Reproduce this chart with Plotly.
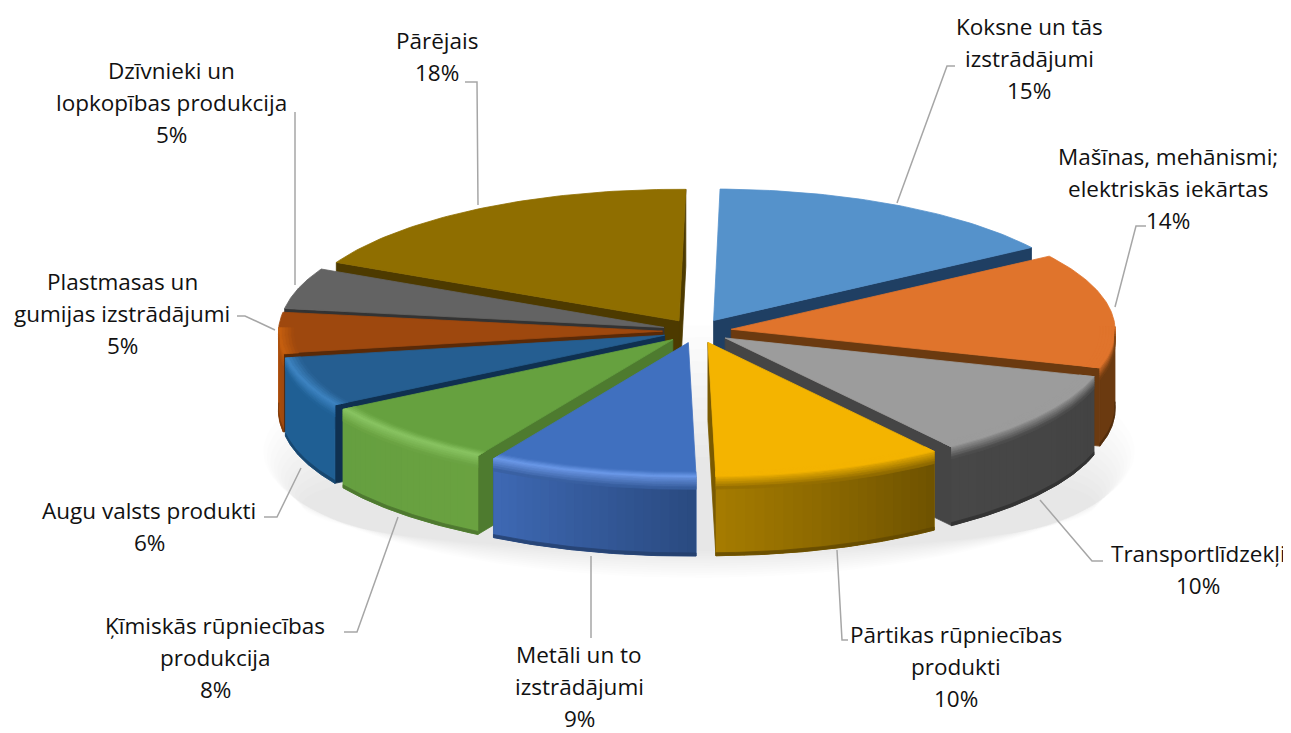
import numpy as np
import plotly.graph_objects as go

categories = ["Koksne un tās\nizstrādājumi", "Mašīnas, mehānismi;\nelektriskās iekārtas", "Transportlīdzekļi",
              "Pārtikas rūpniecības\nprodukti", "Metāli un to\nizstrādājumi", "Ķīmiskās rūpniecības\nprodukcija",
              "Augu valsts produkti", "Plastmasas un\ngumijas izstrādājumi", "Dzīvnieki un\nlopkopības produkcija", "Pārējais"]
values = [15.4, 14.0, 10.4, 9.6, 8.7, 7.9, 6.0, 5.0, 5.0, 18.0]
percent_labels = ["15%", "14%", "10%", "10%", "9%", "8%", "6%", "5%", "5%", "18%"]

top_colors = ["#5592CB", "#E0742C", "#9C9C9C", "#F4B400", "#4070BF", "#66A13F", "#255E91", "#9E480E", "#636363", "#8F6E00"]
wall_left = ["#2A5078", "#6B3A10", "#474747", "#A67C00", "#3E69B4", "#659F40", "#1F5F94", "#B0520F", "#555555", "#6B5200"]
wall_right = ["#2A5078", "#6B3A10", "#434343", "#6E5200", "#2A4A80", "#6AA240", "#1F5F94", "#A04A0E", "#555555", "#6B5200"]
cut_colors = ["#1F3F63", "#6B3A10", "#454545", "#7A5A00", "#2F4F8A", "#4E7B2F", "#0F3050", "#5A2A08", "#333333", "#4D3A00"]
edge_colors = ["#7FB4E6", "#E0742C", "#9C9C9C", "#F4B400", "#6F9CEB", "#8CC765", "#3F86C4", "#C8600F", "#7A7A7A", "#A88300"]

# geometry of the drawing, in page pixels
CX, CY, RX, RY, PERSP, THICK, EXPLODE, ROT = 697, 331, 384, 133, 0.01, 78, 0.09, np.radians(1.0)
# the page has an 8 px body margin, so the axes start at 8
PAGE_W, PAGE_H, BODY = 1291, 733, 8

label_x = [1029, 1168, 1198, 956, 579, 215, 149, 122, 171, 437]
label_y = [26, 156, 553, 634, 654, 625, 510, 281, 70, 40]
LINE_STEP = 32.4
leaders = [
    [(897, 203), (947, 66), (955, 66)],
    [(1115, 307), (1136, 226), (1146, 226)],
    [(1040, 500), (1092, 561), (1103, 561)],
    [(837, 550), (842, 640), (848, 640)],
    [(591, 556), (591, 638)],
    [(398, 517), (357, 632), (344, 632)],
    [(301, 468), (277, 517), (264, 517)],
    [(275, 330), (245, 316), (237, 316)],
    [(295, 285), (295, 112)],
    [(478, 205), (477, 82), (465, 82)],
]


def project(u, v, h=0.0):
    w = 1.0 / (1.0 - PERSP * np.asarray(v))
    return CX + RX * np.asarray(u) * w, CY + RY * np.asarray(v) * w + h * w


def mix(a, b, t):
    ca = [int(a[i:i + 2], 16) for i in (1, 3, 5)]
    cb = [int(b[i:i + 2], 16) for i in (1, 3, 5)]
    return "#%02x%02x%02x" % tuple(int(round(x + (y - x) * t)) for x, y in zip(ca, cb))


fig = go.Figure()


def poly(xs, ys, color, opacity=1.0, outline=True):
    xs = np.r_[xs, xs[0]]
    ys = np.r_[ys, ys[0]]
    fig.add_trace(go.Scatter(x=xs, y=ys, mode="lines", fill="toself", fillcolor=color,
                             line=dict(color=color, width=0.8 if outline else 0), opacity=opacity,
                             hoverinfo="skip", showlegend=False))


# soft shadow under the pie: rings tight at the bottom, wide towards the back
t = np.linspace(0, 2 * np.pi, 160)
for i in range(12):
    top, bottom = 325 + i * 12, 578 - i * 2.4
    rx = 436 - i * 3.5
    poly(CX + 2 + rx * np.cos(t), (top + bottom) / 2 + (bottom - top) / 2 * np.sin(t),
         "rgba(0,0,0,0.0095)", outline=False)

fractions = np.array(values, dtype=float) / sum(values)
edges = np.concatenate([[0], np.cumsum(fractions)]) * 2 * np.pi + ROT
mids = (edges[:-1] + edges[1:]) / 2
order = np.argsort(-np.cos(mids))  # back wedges first

for k in order:
    a0, a1, am = edges[k], edges[k + 1], mids[k]
    ou, ov = EXPLODE * np.sin(am), -EXPLODE * np.cos(am)
    th = np.linspace(a0, a1, 60)
    ru, rv = ou + np.sin(th), ov - np.cos(th)

    def side(a):
        xa, ya = project(np.array([ou, ou + np.sin(a)]), np.array([ov, ov - np.cos(a)]), 0)
        xb, yb = project(np.array([ou + np.sin(a), ou]), np.array([ov - np.cos(a), ov]), THICK)
        return np.r_[xa, xb], np.r_[ya, yb]

    # cut faces that look towards the viewer
    if np.sin(a0) < 0:
        poly(*side(a0), cut_colors[k])
    if np.sin(a1) > 0:
        poly(*side(a1), cut_colors[k])

    # outer wall: one base polygon, then overlapping slices for the shading
    front = -np.cos(th) > -0.03
    side_c = mix(wall_left[k], wall_right[k], 0.5)
    if front.sum() > 1:
        uf, vf = ou + np.sin(th[front]), ov - np.cos(th[front])
        xt, yt = project(uf, vf, 0)
        xb, yb = project(uf[::-1], vf[::-1], THICK)
        poly(np.r_[xt, xb], np.r_[yt, yb], side_c)

        if wall_left[k] != wall_right[k]:
            n = 24
            sl = np.linspace(th[front][0], th[front][-1], n + 1)  # clockwise: runs right to left along the front
            for j in range(n):
                seg = np.linspace(sl[j], min(sl[j + 1] + 0.004, sl[-1]), 4)
                u, v = ou + np.sin(seg), ov - np.cos(seg)
                xt, yt = project(u, v, 0)
                xb, yb = project(u[::-1], v[::-1], THICK)
                poly(np.r_[xt, xb], np.r_[yt, yb], mix(wall_right[k], wall_left[k], (j + 0.5) / n), outline=False)

    # top face
    xr, yr = project(ru, rv, 0)
    xo, yo = project(np.array([ou]), np.array([ov]), 0)
    poly(np.r_[xo, xr], np.r_[yo, yr], top_colors[k])

    # rounded rim: smooth strips on the part that faces the viewer
    if front.sum() > 1:
        uf, vf = np.sin(th[front]), -np.cos(th[front])
        steps = 5
        rr = np.linspace(0.96, 1.0, steps + 1)
        for j in range(steps):
            x1, y1 = project(ou + uf * rr[j], ov + vf * rr[j], 0)
            x2, y2 = project(ou + uf * rr[j + 1], ov + vf * rr[j + 1], 0)
            poly(np.r_[x1, x2[::-1]], np.r_[y1, y2[::-1]], mix(top_colors[k], edge_colors[k], (j + 0.5) / steps))
        hh = np.linspace(0, 12, steps + 1)
        for j in range(steps):
            x1, y1 = project(ou + uf, ov + vf, hh[j])
            x2, y2 = project(ou + uf, ov + vf, hh[j + 1])
            poly(np.r_[x1, x2[::-1]], np.r_[y1, y2[::-1]], mix(edge_colors[k], side_c, (j + 0.5) / steps), 0.85)
        x1, y1 = project(ou + uf, ov + vf, THICK - 3)
        x2, y2 = project(ou + uf, ov + vf, THICK)
        poly(np.r_[x1, x2[::-1]], np.r_[y1, y2[::-1]], mix(side_c, "#000000", 0.3), 0.8)

# leader lines
for path in leaders:
    xs, ys = zip(*path)
    fig.add_trace(go.Scatter(x=xs, y=ys, mode="lines", line=dict(color="#A6A6A6", width=1.5),
                             hoverinfo="skip", showlegend=False))

# labels
annotations = []
for name, pct, lx, ly in zip(categories, percent_labels, label_x, label_y):
    for i, line in enumerate(name.split("\n") + [pct]):
        annotations.append(dict(x=lx, y=ly + i * LINE_STEP, xref="x", yref="y", text=line, showarrow=False,
                                xanchor="center", yanchor="middle",
                                font=dict(family="Open Sans", size=22.5, color="#111111")))

fig.update_layout(
    width=PAGE_W - BODY, height=PAGE_H - BODY, margin=dict(l=0, r=0, t=0, b=0),
    paper_bgcolor="white", plot_bgcolor="white", showlegend=False,
    xaxis=dict(range=[BODY, PAGE_W], visible=False, fixedrange=True),
    yaxis=dict(range=[PAGE_H, BODY], visible=False, fixedrange=True),
    annotations=annotations,
)
fig.write_html("out.html")
